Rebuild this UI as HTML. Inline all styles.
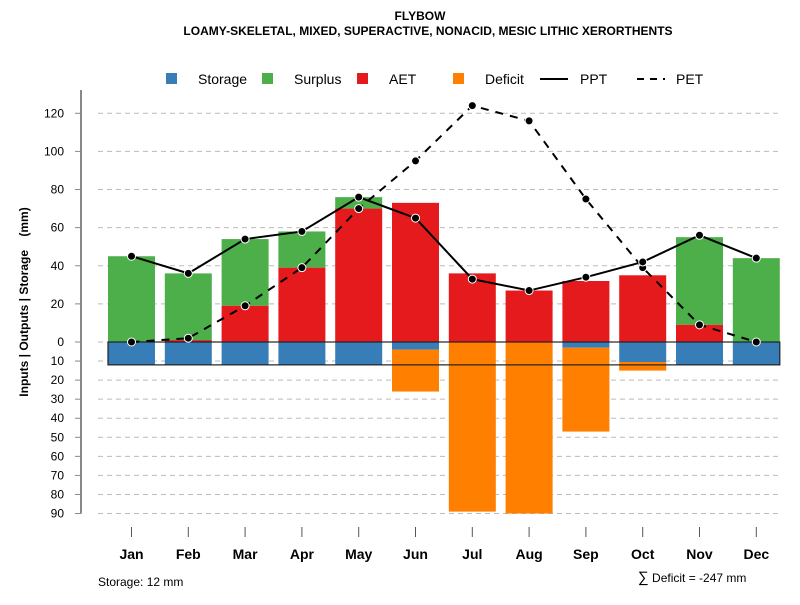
<!DOCTYPE html>
<html><head><meta charset="utf-8"><style>
body{margin:0;background:#fff;}
svg{font-family:"Liberation Sans",Arial,sans-serif;}
</style></head><body>
<svg id="c" width="800" height="600" xmlns="http://www.w3.org/2000/svg">
<text x="420" y="20" text-anchor="middle" font-size="12" font-weight="bold">FLYBOW</text>
<text x="428" y="35" text-anchor="middle" font-size="12" font-weight="bold">LOAMY-SKELETAL, MIXED, SUPERACTIVE, NONACID, MESIC LITHIC XERORTHENTS</text>
<g id="grid"></g><g id="bars"></g><g id="lines"></g><g id="axes"></g>
<g font-size="14">
<rect x="166" y="73" width="11" height="11" fill="#377EB8"/>
<text x="198" y="84">Storage</text>
<rect x="262" y="73" width="11" height="11" fill="#4DAF4A"/>
<text x="294" y="84">Surplus</text>
<rect x="357" y="73" width="11" height="11" fill="#E41A1C"/>
<text x="389" y="84">AET</text>
<rect x="453" y="73" width="11" height="11" fill="#FF7F00"/>
<text x="485" y="84">Deficit</text>
<line x1="540" y1="79" x2="568" y2="79" stroke="#000" stroke-width="2"/>
<text x="580" y="84">PPT</text>
<line x1="637" y1="79" x2="665" y2="79" stroke="#000" stroke-width="2" stroke-dasharray="7,6"/>
<text x="676" y="84">PET</text>
</g>
<text transform="translate(28,302) rotate(-90)" text-anchor="middle" font-size="12" font-weight="bold" style="white-space:pre">Inputs | Outputs | Storage    (mm)</text>
<text x="98" y="586" font-size="12">Storage: 12 mm</text>
<text x="638" y="582" font-size="12"><tspan font-size="15">∑</tspan> Deficit = -247 mm</text>
</svg>
<script>
const months=["Jan","Feb","Mar","Apr","May","Jun","Jul","Aug","Sep","Oct","Nov","Dec"];
const ppt=[45,36,54,58,76,65,33,27,34,42,56,44];
const pet=[0,2,19,39,70,95,124,116,75,39,9,0];
const aet=[0,1,19,39,70,73,36,27,32,35,9,0];
const surplus=[45,35,35,19,6,0,0,0,0,0,46,44];
const storage=[12,12,12,12,12,4,0,0,3,10.5,12,12];
const deficit=[0,0,0,0,0,22,89,90,44,4.5,0,0];
const posTicks=[0,20,40,60,80,100,120];
const negTicks=[10,20,30,40,50,60,70,80,90];
const storageCap=12;
const NS="http://www.w3.org/2000/svg";
const y0=342,k=1.906;
const yUp=v=>y0-v*k, yDn=v=>y0+v*k;
const xc=i=>131.5+i*56.8, bw=47;
function mk(p,t,a){const e=document.createElementNS(NS,t);for(const q in a)e.setAttribute(q,a[q]);document.getElementById(p).appendChild(e);return e;}
posTicks.forEach(v=>{
 const g=mk('grid','line',{x1:98,x2:782,y1:yUp(v),y2:yUp(v),stroke:'#bbb','stroke-dasharray':'5,4'});
 
 
 const t=mk('axes','line',{x1:75,x2:81,y1:yUp(v),y2:yUp(v),stroke:'#888'});
 
 
 const l=mk('axes','text',{x:64,y:yUp(v)+4,'text-anchor':'end','font-size':12});l.textContent=v;
 
 
});
negTicks.forEach(v=>{
 const g=mk('grid','line',{x1:98,x2:782,y1:yDn(v),y2:yDn(v),stroke:'#bbb','stroke-dasharray':'5,4'});
 
 
 const t=mk('axes','line',{x1:75,x2:81,y1:yDn(v),y2:yDn(v),stroke:'#888'});
 
 
 const l=mk('axes','text',{x:64,y:yDn(v)+4,'text-anchor':'end','font-size':12});l.textContent=v;
 
 
});
const ax=mk('axes','line',{x1:81,x2:81,y1:90,y2:yDn(90),stroke:'#888','stroke-width':2});


months.forEach((m,i)=>{
 const x=xc(i)-bw/2;
 let r=mk('bars','rect',{x:x,y:yUp(aet[i]+surplus[i]),width:bw,height:surplus[i]*k,fill:'#4DAF4A'});
 
 
 r=mk('bars','rect',{x:x,y:yUp(aet[i]),width:bw,height:aet[i]*k,fill:'#E41A1C'});
 
 
 r=mk('bars','rect',{x:x,y:y0,width:bw,height:storage[i]*k,fill:'#377EB8'});
 
 
 r=mk('bars','rect',{x:x,y:yDn(storage[i]),width:bw,height:deficit[i]*k,fill:'#FF7F00'});
 
 
 const t=mk('axes','line',{x1:xc(i),x2:xc(i),y1:527,y2:537,stroke:'#555'});
 
 
 const l=mk('axes','text',{x:xc(i),y:559,'text-anchor':'middle','font-size':14,'font-weight':'bold'});l.textContent=m;
 
 
});
const box=mk('bars','rect',{x:xc(0)-bw/2,y:y0,width:xc(11)+bw/2-(xc(0)-bw/2),height:storageCap*k,fill:'none',stroke:'#222','stroke-width':1.2});


function series(vals,dash,name){
 const p=mk('lines','polyline',{points:vals.map((v,i)=>xc(i)+','+yUp(v)).join(' '),fill:'none',stroke:'#000','stroke-width':2,'stroke-dasharray':dash});
 
 
 vals.forEach((v,i)=>{
  const c=mk('lines','circle',{cx:xc(i),cy:yUp(v),r:4,fill:'#000',stroke:'#fff','stroke-width':1});
  
  
 });
}
series(pet,'8,7','pet');
series(ppt,'none','ppt');
</script>
</body></html>
